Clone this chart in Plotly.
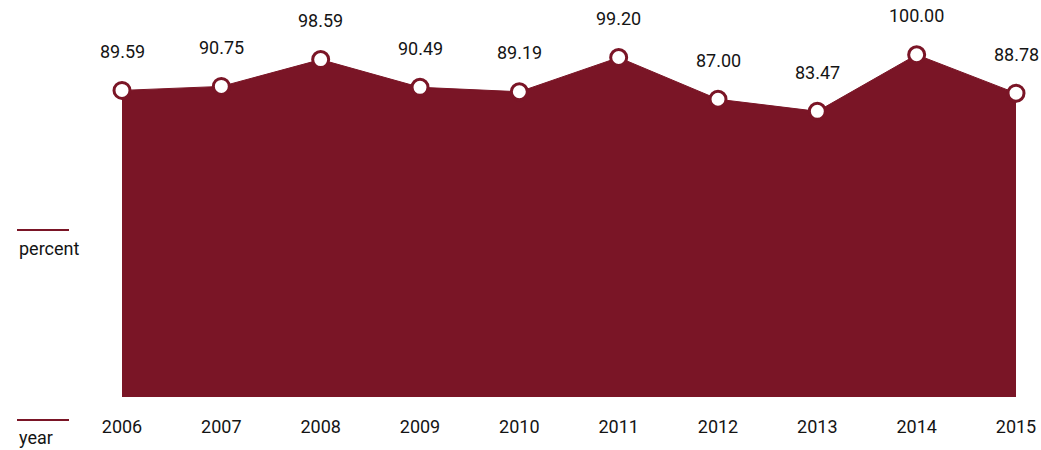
import plotly.graph_objects as go

# Yearly percentage series
years = [2006, 2007, 2008, 2009, 2010, 2011, 2012, 2013, 2014, 2015]
percent = [89.59, 90.75, 98.59, 90.49, 89.19, 99.20, 87.00, 83.47, 100.00, 88.78]
value_labels = [f"{v:.2f}" for v in percent]
tick_labels = [str(y) for y in years]

MAROON = "#7a1526"
TEXT = "#141414"
FONT = "Roboto"

W, H = 1041, 450
L, R, T, B = 122, 25, 0, 53
plot_w = W - L - R
plot_h = H - T - B


def px_x(px):
    return (px - L) / plot_w


def px_y(py):
    return (H - B - py) / plot_h


fig = go.Figure()

fig.add_trace(go.Scatter(
    x=years,
    y=percent,
    mode="lines+markers",
    fill="tozeroy",
    fillcolor=MAROON,
    line=dict(color=MAROON, width=1),
    marker=dict(size=16, color="white", line=dict(color=MAROON, width=3)),
    cliponaxis=False,
    hoverinfo="x+y",
    showlegend=False,
))

# Value labels above each point
for x, y, t in zip(years, percent, value_labels):
    fig.add_annotation(
        x=x, y=y, text=t, showarrow=False, yshift=39,
        font=dict(family=FONT, size=18, color=TEXT),
    )

# Axis captions on the left, each with a short rule above it
for text, rule_y, text_y in [("percent", 230, 248), ("year", 420, 438)]:
    fig.add_shape(
        type="line", xref="paper", yref="paper",
        x0=px_x(17), x1=px_x(69), y0=px_y(rule_y), y1=px_y(rule_y),
        line=dict(color=MAROON, width=2),
    )
    fig.add_annotation(
        xref="paper", yref="paper", x=px_x(17), y=px_y(text_y),
        xanchor="left", yanchor="middle", text=text, showarrow=False,
        font=dict(family=FONT, size=18, color=TEXT),
    )

fig.update_layout(
    width=W, height=H,
    margin=dict(l=L, r=R, t=T, b=B),
    paper_bgcolor="white",
    plot_bgcolor="white",
    font=dict(family=FONT, size=18, color=TEXT),
    xaxis=dict(
        range=[years[0], years[-1]],
        tickmode="array", tickvals=years, ticktext=tick_labels,
        showgrid=False, zeroline=False, showline=False,
        ticks="", ticklabelstandoff=17,
        tickfont=dict(family=FONT, size=18, color=TEXT),
    ),
    yaxis=dict(
        range=[0, 116],
        visible=False, showgrid=False, zeroline=False,
    ),
)

fig.write_html("out.html")
